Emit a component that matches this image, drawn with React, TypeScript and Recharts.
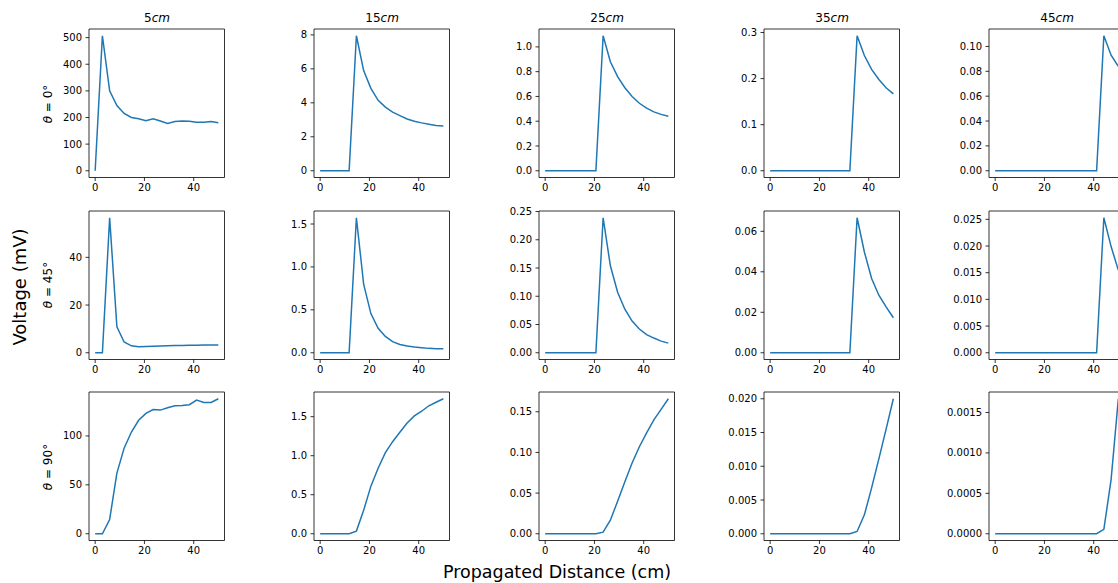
import React from 'react';
import { LineChart, Line, XAxis, YAxis, ReferenceArea } from 'recharts';

// propagated distance (cm), shared by every panel
const distance = [0, 2.94, 5.88, 8.82, 11.76, 14.71, 17.65, 20.59, 23.53, 26.47, 29.41, 32.35, 35.29, 38.24, 41.18, 44.12, 47.06, 50];

const sources = ['5', '15', '25', '35', '45'];
const angles = ['0', '45', '90'];

// theta = 0 deg
const t0_5 = [0, 507, 300, 245, 215, 200, 195, 188, 195, 187, 178, 185, 187, 186, 182, 182, 185, 180];
const t0_15 = [0, 0, 0, 0, 0, 7.95, 5.9, 4.85, 4.15, 3.75, 3.45, 3.25, 3.05, 2.92, 2.82, 2.74, 2.66, 2.64];
const t0_25 = [0, 0, 0, 0, 0, 0, 0, 0, 1.09, 0.88, 0.76, 0.67, 0.6, 0.545, 0.505, 0.475, 0.455, 0.44];
const t0_35 = [0, 0, 0, 0, 0, 0, 0, 0, 0, 0, 0, 0, 0.293, 0.25, 0.22, 0.198, 0.18, 0.167];
const t0_45 = [0, 0, 0, 0, 0, 0, 0, 0, 0, 0, 0, 0, 0, 0, 0, 0.1086, 0.093, 0.084];

// theta = 45 deg
const t45_5 = [0, 0, 56.6, 10.9, 4.5, 2.9, 2.5, 2.6, 2.7, 2.8, 2.9, 3.0, 3.0, 3.1, 3.1, 3.2, 3.2, 3.2];
const t45_15 = [0, 0, 0, 0, 0, 1.573, 0.8, 0.456, 0.285, 0.19, 0.13, 0.097, 0.078, 0.066, 0.058, 0.051, 0.047, 0.046];
const t45_25 = [0, 0, 0, 0, 0, 0, 0, 0, 0.239, 0.154, 0.107, 0.077, 0.056, 0.042, 0.032, 0.026, 0.0206, 0.017];
const t45_35 = [0, 0, 0, 0, 0, 0, 0, 0, 0, 0, 0, 0, 0.0667, 0.0498, 0.0367, 0.0284, 0.0227, 0.0173];
const t45_45 = [0, 0, 0, 0, 0, 0, 0, 0, 0, 0, 0, 0, 0, 0, 0, 0.0253, 0.0199, 0.0155];

// theta = 90 deg
const t90_5 = [0, 0, 14.6, 62, 87.5, 104, 116, 123, 127, 126.4, 128.8, 130.8, 131, 131.9, 136.6, 134.2, 134.2, 138];
const t90_15 = [0, 0, 0, 0, 0, 0.034, 0.3, 0.61, 0.84, 1.04, 1.18, 1.3, 1.42, 1.51, 1.57, 1.64, 1.685, 1.73];
const t90_25 = [0, 0, 0, 0, 0, 0, 0, 0, 0.002, 0.0167, 0.04, 0.064, 0.087, 0.107, 0.124, 0.14, 0.153, 0.166];
const t90_35 = [0, 0, 0, 0, 0, 0, 0, 0, 0, 0, 0, 0, 0.00034, 0.0028, 0.0068, 0.0111, 0.0155, 0.02];
const t90_45 = [0, 0, 0, 0, 0, 0, 0, 0, 0, 0, 0, 0, 0, 0, 0, 0.000054, 0.00067, 0.00167];

const values = [
  [t0_5, t0_15, t0_25, t0_35, t0_45],
  [t45_5, t45_15, t45_25, t45_35, t45_45],
  [t90_5, t90_15, t90_25, t90_35, t90_45],
];

const xTicks = [0, 20, 40];
const yTicks = [
  [[0, 100, 200, 300, 400, 500], [0, 2, 4, 6, 8], [0, 0.2, 0.4, 0.6, 0.8, 1.0], [0, 0.1, 0.2, 0.3], [0, 0.02, 0.04, 0.06, 0.08, 0.1]],
  [[0, 20, 40], [0, 0.5, 1.0, 1.5], [0, 0.05, 0.1, 0.15, 0.2, 0.25], [0, 0.02, 0.04, 0.06], [0, 0.005, 0.01, 0.015, 0.02, 0.025]],
  [[0, 50, 100], [0, 0.5, 1.0, 1.5], [0, 0.05, 0.1, 0.15], [0, 0.005, 0.01, 0.015, 0.02], [0, 0.0005, 0.001, 0.0015]],
];
const yDigits = [
  [0, 0, 1, 1, 2],
  [0, 1, 2, 2, 3],
  [0, 1, 2, 3, 4],
];

const FONT = 'DejaVu Sans, sans-serif';
const AXIS_W = 60;
const PLOT_W = 135.5;
const PLOT_H = 148.5;
const colLeft = [89.3, 314.3, 539.3, 764.3, 989.3];
const rowTop = [29.3, 210.8, 392.3];

const tickStyle = { fontSize: 10, fill: '#000', fontFamily: FONT };
const tickLine = { stroke: '#000', strokeWidth: 0.8 };

function Panel({ vals, ticks, digits, left, top }) {
  const data = distance.map((d, i) => ({ d, v: vals[i] }));
  const lo = Math.min(...vals);
  const hi = Math.max(...vals);
  const pad = (hi - lo) * 0.05;
  const yDomain = [lo - pad, hi + pad];
  return (
    <div style={{ position: 'absolute', left: left - AXIS_W, top: top - 5 }}>
      <LineChart
        width={AXIS_W + PLOT_W + 5}
        height={5 + PLOT_H + 25}
        data={data}
        margin={{ top: 5, right: 5, bottom: 0, left: 0 }}
      >
        <XAxis
          dataKey="d"
          type="number"
          domain={[-2.5, 52.5]}
          ticks={xTicks}
          interval={0}
          height={25}
          tickSize={3.5}
          tickMargin={3}
          axisLine={false}
          tickLine={tickLine}
          tick={tickStyle}
          allowDataOverflow
        />
        <YAxis
          type="number"
          domain={yDomain}
          ticks={ticks}
          interval={0}
          width={AXIS_W}
          tickSize={3.5}
          tickMargin={3.5}
          axisLine={false}
          tickLine={tickLine}
          tick={tickStyle}
          tickFormatter={(v) => Number(v).toFixed(digits)}
          allowDataOverflow
        />
        <ReferenceArea
          x1={-2.5}
          x2={52.5}
          y1={yDomain[0]}
          y2={yDomain[1]}
          fill="none"
          fillOpacity={0}
          stroke="#000"
          strokeWidth={0.8}
          strokeOpacity={1}
          ifOverflow="visible"
        />
        <Line
          dataKey="v"
          type="linear"
          stroke="#1f77b4"
          strokeWidth={1.5}
          dot={false}
          activeDot={false}
          isAnimationActive={false}
        />
      </LineChart>
    </div>
  );
}

export default function App() {
  return (
    <div
      style={{
        position: 'absolute',
        left: 0,
        top: 0,
        width: 1118,
        height: 583,
        overflow: 'hidden',
        background: '#fff',
        fontFamily: FONT,
        color: '#000',
      }}
    >
      {sources.map((s, c) => (
        <div
          key={'title-' + s}
          style={{
            position: 'absolute',
            left: colLeft[c],
            width: PLOT_W,
            top: 11,
            textAlign: 'center',
            fontSize: 12,
            lineHeight: '14px',
          }}
        >
          {s}
          <i>cm</i>
        </div>
      ))}

      {angles.map((a, r) => (
        <div
          key={'angle-' + a}
          style={{
            position: 'absolute',
            left: 48 - 40,
            top: rowTop[r] + PLOT_H / 2 - 8,
            width: 80,
            height: 16,
            lineHeight: '16px',
            textAlign: 'center',
            fontSize: 12,
            transform: 'rotate(-90deg)',
            whiteSpace: 'nowrap',
          }}
        >
          <i>θ</i> = {a}°
        </div>
      ))}

      {values.map((row, r) =>
        row.map((vals, c) => (
          <Panel
            key={r + '-' + c}
            vals={vals}
            ticks={yTicks[r][c]}
            digits={yDigits[r][c]}
            left={colLeft[c]}
            top={rowTop[r]}
          />
        ))
      )}

      <div
        style={{
          position: 'absolute',
          left: 20 - 80,
          top: 287 - 11,
          width: 160,
          height: 22,
          lineHeight: '22px',
          textAlign: 'center',
          fontSize: 18,
          transform: 'rotate(-90deg)',
          whiteSpace: 'nowrap',
        }}
      >
        Voltage (mV)
      </div>

      <div
        style={{
          position: 'absolute',
          left: 557 - 160,
          top: 561,
          width: 320,
          lineHeight: '22px',
          textAlign: 'center',
          fontSize: 17.5,
          whiteSpace: 'nowrap',
        }}
      >
        Propagated Distance (cm)
      </div>
    </div>
  );
}
